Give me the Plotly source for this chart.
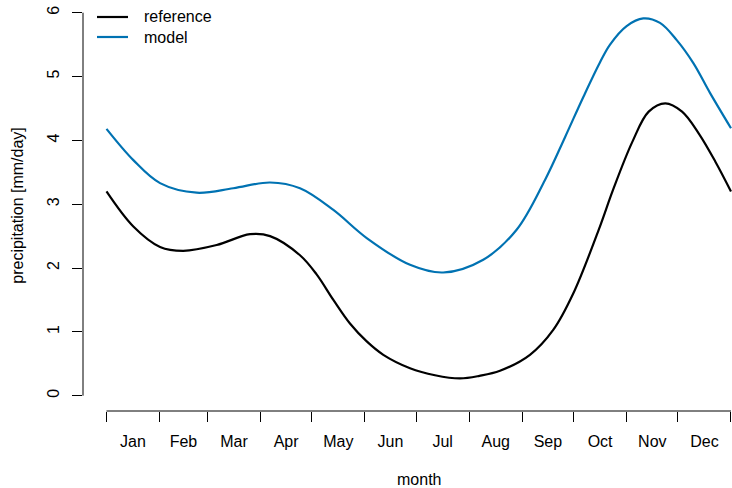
import plotly.graph_objects as go

# Day-of-year positions and smoothed seasonal precipitation (mm/day)
ref_day = [0, 15.7, 31.3, 44.9, 64.4, 83.9, 95.6, 113.1, 122.8, 132.6, 142.3,
           152.1, 161.8, 177.4, 192.0, 206.6, 218.0, 230.0, 247.5, 261.1, 272.8,
           288.4, 296.0, 307.4, 316.9, 326.6, 336.4, 346.1, 355.8, 365.0]
ref_val = [3.20, 2.65, 2.33, 2.27, 2.36, 2.53, 2.50, 2.20, 1.90, 1.50, 1.13,
           0.85, 0.64, 0.43, 0.32, 0.27, 0.31, 0.39, 0.64, 1.03, 1.60,
           2.65, 3.22, 3.98, 4.45, 4.58, 4.45, 4.11, 3.67, 3.20]

mod_day = [0, 15.7, 31.3, 52.7, 74.1, 95.6, 113.1, 132.6, 152.1, 177.4, 196.8,
           220.2, 239.7, 256.3, 268.0, 278.7, 288.4, 294.3, 304.0, 313.7, 323.5,
           333.3, 343.0, 352.8, 365.0]
mod_val = [4.18, 3.69, 3.33, 3.18, 3.25, 3.34, 3.25, 2.91, 2.47, 2.05, 1.93,
           2.13, 2.60, 3.38, 4.05, 4.68, 5.22, 5.50, 5.79, 5.91, 5.84,
           5.57, 5.21, 4.74, 4.19]

# Month boundaries (day of year) and label positions (month midpoints)
month_start = [0, 31, 59, 90, 120, 151, 181, 212, 243, 273, 304, 334, 365]
month_mid = [15.5, 45, 74.5, 105, 135.5, 166, 196.5, 227.5, 258, 288.5, 319, 349.5]
month_lab = ["Jan", "Feb", "Mar", "Apr", "May", "Jun",
             "Jul", "Aug", "Sep", "Oct", "Nov", "Dec"]
y_ticks = [0, 1, 2, 3, 4, 5, 6]

series_names = ["reference", "model"]
series_colors = ["black", "#0072B2"]

FONT = "Liberation Sans, Arial, Helvetica, sans-serif"

# plot-area geometry in pixels (used for the hand-placed legend and title)
L, T, W, H = 83, 0, 649, 411


def px_x(p):
    return (p - L) / W


def px_y(p):
    return (H - p) / H


fig = go.Figure()
for days, vals, name, col in zip([ref_day, mod_day], [ref_val, mod_val],
                                 series_names, series_colors):
    fig.add_trace(go.Scatter(x=days, y=vals, mode="lines", name=name,
                             showlegend=False,
                             line=dict(color=col, width=2.2, shape="spline",
                                       smoothing=1.0)))
# invisible trace carrying the month-label axis
fig.add_trace(go.Scatter(x=[month_mid[0]], y=[0], xaxis="x2", mode="markers",
                         marker=dict(opacity=0), showlegend=False, hoverinfo="skip"))

XR = [-13.73, 365.59]
YR = [-0.240, 6.199]

shapes = [
    dict(type="line", xref="x", yref="paper", x0=0, x1=365, y0=0, y1=0,
         line=dict(color="black", width=1)),
    dict(type="line", xref="paper", yref="y", x0=0, x1=0, y0=0, y1=6,
         line=dict(color="black", width=1)),
]
annotations = [
    dict(text="month", xref="x", yref="paper", x=182.5, y=px_y(480),
         xanchor="center", yanchor="middle", showarrow=False,
         font=dict(size=16)),
]
# legend: line keys and labels, top-left
for i, (name, col) in enumerate(zip(series_names, series_colors)):
    yy = px_y(17 + 20 * i)
    shapes.append(dict(type="line", xref="paper", yref="paper",
                       x0=px_x(97), x1=px_x(128), y0=yy, y1=yy,
                       line=dict(color=col, width=2.2)))
    annotations.append(dict(text=name, xref="paper", yref="paper",
                            x=px_x(142), y=yy, xanchor="left", yanchor="middle",
                            showarrow=False, font=dict(size=16)))

fig.update_layout(
    width=732, height=488,
    margin=dict(l=L, r=0, t=T, b=488 - H),
    paper_bgcolor="white", plot_bgcolor="white",
    font=dict(family=FONT, size=16, color="black"),
    showlegend=False,
    xaxis=dict(range=XR, showgrid=False, zeroline=False, showline=False,
               tickmode="array", tickvals=month_start, ticktext=[""] * len(month_start),
               ticks="outside", ticklen=10, tickwidth=1, tickcolor="black"),
    xaxis2=dict(range=XR, overlaying="x", side="bottom", showgrid=False,
                zeroline=False, showline=False, tickmode="array",
                tickvals=month_mid, ticktext=month_lab, ticks="",
                ticklabelstandoff=19, tickfont=dict(size=16)),
    yaxis=dict(range=YR, showgrid=False, zeroline=False, showline=False,
               tickmode="array", tickvals=y_ticks, ticks="outside", ticklen=10,
               tickwidth=1, tickcolor="black", tickangle=-90,
               ticklabelstandoff=7, tickfont=dict(size=16),
               title=dict(text="precipitation [mm/day]", standoff=16,
                          font=dict(size=16))),
    shapes=shapes,
    annotations=annotations,
)

fig.write_html("out.html")
